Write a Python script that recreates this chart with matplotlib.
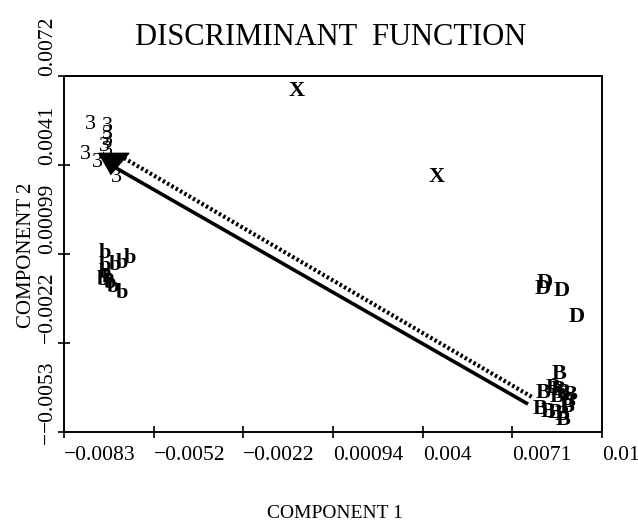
import matplotlib
matplotlib.use("Agg")
import matplotlib.pyplot as plt
import numpy as np

# ---------------- data ----------------
x_min, x_max = -0.0083, 0.0101
y_min, y_max = -0.0084, 0.0041
xtick_labels = ["−0.0083", "−0.0052", "−0.0022", "0.00094", "0.004", "0.0071", "0.01"]
ytick_labels = ["−0.0053", "−0.0022", "0.00099", "0.0041", "0.0072"]   # bottom -> top

g3_x = [-0.00741, -0.00680, -0.00683, -0.00680, -0.00693, -0.00683, -0.00758, -0.00717, -0.00649]
g3_y = [0.00241, 0.00234, 0.00203, 0.00182, 0.00164, 0.00147, 0.00133, 0.00105, 0.00055]

gb_x = [-0.00690, -0.00656, -0.00632, -0.00604, -0.00690, -0.00690, -0.00680, -0.00673, -0.00662, -0.00632, -0.00697]
gb_y = [-0.00212, -0.00254, -0.00247, -0.00229, -0.00257, -0.00282, -0.00299, -0.00317, -0.00331, -0.00352, -0.00306]

gX_x = [-0.00033, 0.00446]
gX_y = [0.00357, 0.00055]

gD_x = [0.00815, 0.00808, 0.00873, 0.00925]
gD_y = [-0.00317, -0.00338, -0.00345, -0.00436]

gB_x = [0.00863, 0.00808, 0.00842, 0.00859, 0.00877, 0.00901, 0.00894, 0.00890,
        0.00798, 0.00825, 0.00849, 0.00873, 0.00877, 0.00856]
gB_y = [-0.00636, -0.00703, -0.00685, -0.00692, -0.00703, -0.00710, -0.00735, -0.00752,
        -0.00759, -0.00770, -0.00773, -0.00780, -0.00798, -0.00717]

centroid_x, centroid_y = -0.00662, 0.00106
solid_x = [-0.00652, 0.00757]
solid_y = [0.00087, -0.00742]
dotted_x = [-0.00625, 0.00777]
dotted_y = [0.00122, -0.00721]

# ---------------- figure ----------------
serif = "Liberation Serif"
fig = plt.figure(figsize=(6.38, 5.22), dpi=100)
ax = fig.add_axes([64/638, 1-432/522, (602-64)/638, (432-76)/522])
ax.set_xlim(x_min, x_max)
ax.set_ylim(y_min, y_max)

for s in ax.spines.values():
    s.set_linewidth(1.4)

xt = np.linspace(x_min, x_max, len(xtick_labels))
ax.set_xticks(xt)
ax.set_xticklabels(xtick_labels, fontfamily=serif, fontsize=15.5, ha="left")
yt = np.linspace(y_min, y_max, len(ytick_labels))
ax.set_yticks(yt)
ax.set_yticklabels([])
ax.tick_params(axis="both", direction="inout", length=8, width=1.2, pad=6)

ytr = ax.get_yaxis_transform()
for yv, lab in zip(yt, ytick_labels):
    ax.text(-0.013, yv, lab, transform=ytr, rotation=90, ha="right", va="bottom",
            fontfamily=serif, fontsize=15.5, clip_on=False)
ax.text(-0.013, y_min, "−", transform=ytr, rotation=90, ha="right", va="top",
        fontfamily=serif, fontsize=15.5, clip_on=False)

# lines
ax.plot(solid_x, solid_y, color="black", lw=2.6, solid_capstyle="butt")
ax.plot(dotted_x, dotted_y, color="black", lw=3.0, linestyle=(0, (0.6, 0.6)))
tri = [(-15, 10), (15, 10), (-3, -11)]
ax.plot([centroid_x], [centroid_y], marker=tri, markersize=22, color="black", linestyle="none")

def letters(xs, ys, ch, size=16, weight="normal"):
    for xv, yv in zip(xs, ys):
        ax.text(xv, yv, ch, ha="center", va="center", fontfamily=serif,
                fontsize=size, fontweight=weight, color="black")

letters(g3_x, g3_y, "3")
letters(gb_x, gb_y, "b", weight="bold")
letters(gX_x, gX_y, "X", weight="bold")
letters(gD_x, gD_y, "D", weight="bold")
letters(gB_x, gB_y, "B", weight="bold")

fig.text(331/638, 1-45/522, "DISCRIMINANT  FUNCTION", ha="center", va="baseline",
         fontfamily=serif, fontsize=22)
fig.text(335/638, 1-514/522, "COMPONENT 1", ha="center", va="center",
         fontfamily=serif, fontsize=14)
fig.text(27/638, 1-255/522, "COMPONENT 2", ha="center", va="center", rotation=90,
         fontfamily=serif, fontsize=15)

fig.savefig("out.png", dpi=100)
